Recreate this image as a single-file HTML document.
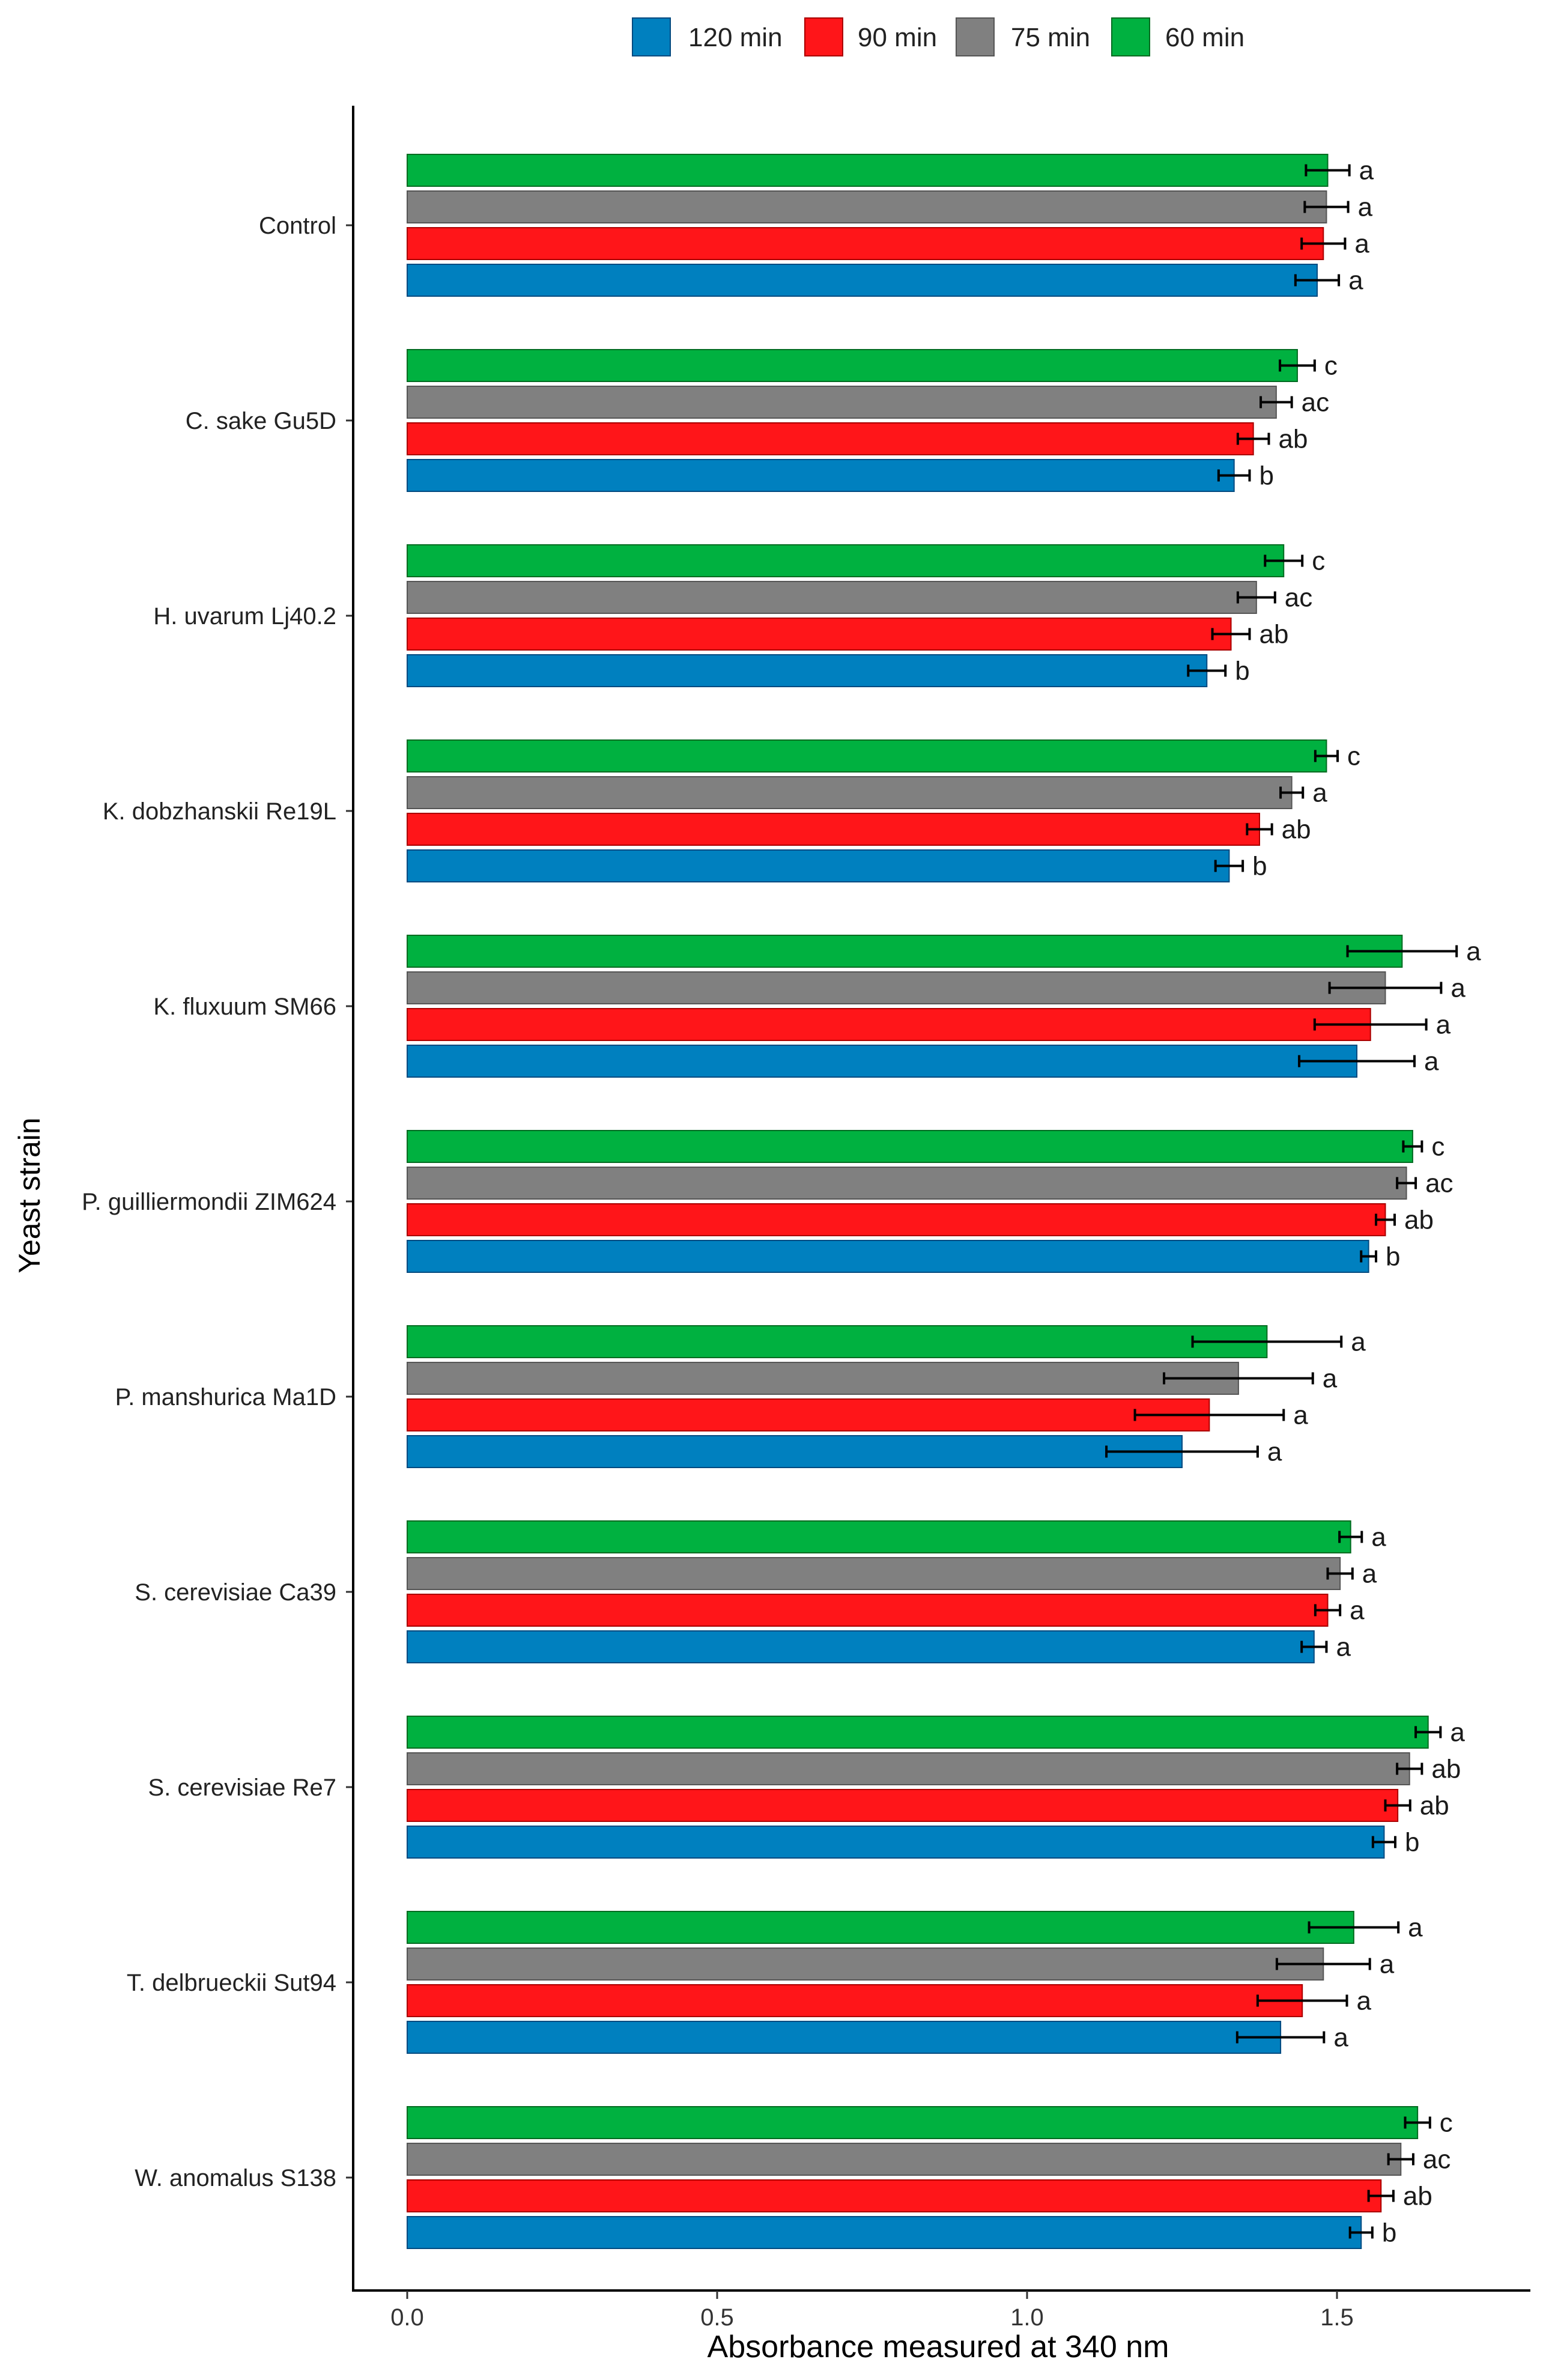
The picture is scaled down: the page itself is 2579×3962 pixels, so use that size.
<!DOCTYPE html>
<html><head><meta charset="utf-8">
<style>
html,body{margin:0;padding:0;background:#fff;}
svg{display:block;font-family:"Liberation Sans",sans-serif;}
</style></head>
<body>
<svg id="chart" width="2579" height="3962" viewBox="0 0 2579 3962" xmlns="http://www.w3.org/2000/svg">
<g id="legend"></g>
<g id="plot"></g>
<g id="axes"></g>
</svg>
<script>
const categories = ["Control","C. sake Gu5D","H. uvarum Lj40.2","K. dobzhanskii Re19L","K. fluxuum SM66","P. guilliermondii ZIM624","P. manshurica Ma1D","S. cerevisiae Ca39","S. cerevisiae Re7","T. delbrueckii Sut94","W. anomalus S138"];
const seriesNames = ["60 min","75 min","90 min","120 min"];
const legendOrder = ["120 min","90 min","75 min","60 min"];
const v60  = [1.485,1.436,1.414,1.483,1.605,1.622,1.387,1.522,1.647,1.527,1.630];
const v75  = [1.483,1.402,1.370,1.427,1.578,1.612,1.341,1.505,1.617,1.478,1.603];
const v90  = [1.478,1.365,1.329,1.375,1.554,1.578,1.294,1.485,1.598,1.444,1.571];
const v120 = [1.468,1.334,1.290,1.326,1.532,1.551,1.250,1.463,1.576,1.409,1.539];
const e60  = [0.035,0.028,0.030,0.018,0.088,0.015,0.120,0.018,0.020,0.072,0.020];
const e75  = [0.035,0.025,0.030,0.018,0.090,0.015,0.120,0.020,0.020,0.075,0.020];
const e90  = [0.035,0.025,0.030,0.020,0.090,0.015,0.120,0.020,0.020,0.072,0.020];
const e120 = [0.035,0.025,0.030,0.022,0.093,0.012,0.122,0.020,0.018,0.070,0.018];
const l60  = ["a","c","c","c","a","c","a","a","a","a","c"];
const l75  = ["a","ac","ac","a","a","ac","a","a","ab","a","ac"];
const l90  = ["a","ab","ab","ab","a","ab","a","a","ab","a","ab"];
const l120 = ["a","b","b","b","a","b","a","a","b","a","b"];
const xTicks = [0,0.5,1.0,1.5];
const xTickLabels = ["0.0","0.5","1.0","1.5"];

const NS="http://www.w3.org/2000/svg";
const fills={"60 min":"#00B140","75 min":"#808080","90 min":"#FF1519","120 min":"#0080BF"};
const strokes={"60 min":"#006b20","75 min":"#555","90 min":"#a00","120 min":"#004a80"};
const vals={"60 min":v60,"75 min":v75,"90 min":v90,"120 min":v120};
const errs={"60 min":e60,"75 min":e75,"90 min":e90,"120 min":e120};
const labs={"60 min":l60,"75 min":l75,"90 min":l90,"120 min":l120};
const X0=678, PXU=1032, AXL=588, AXB=3813, AXT=176, AXR=2548;
const xs=v=>X0+v*PXU;
const yc=i=>375+i*325;
function mk(t,a,p){const e=document.createElementNS(NS,t);for(const k in a)e.setAttribute(k,a[k]);p.appendChild(e);return e;}
const plot=document.getElementById('plot'),axes=document.getElementById('axes'),legend=document.getElementById('legend');

categories.forEach((c,i)=>{
  seriesNames.forEach((s,j)=>{
    const cy=yc(i)+(j-1.5)*61;
    const v=vals[s][i],er=errs[s][i];
    const r=mk('rect',{x:xs(0),y:cy-26.5,width:xs(v)-xs(0),height:53,fill:fills[s],stroke:strokes[s],'stroke-width':2},plot);
    
    
    const g=mk('g',{},plot);
    
    
    mk('line',{x1:xs(v-er),x2:xs(v+er),y1:cy,y2:cy,stroke:'#000','stroke-width':4},g);
    mk('line',{x1:xs(v-er),x2:xs(v-er),y1:cy-10,y2:cy+10,stroke:'#000','stroke-width':4},g);
    mk('line',{x1:xs(v+er),x2:xs(v+er),y1:cy-10,y2:cy+10,stroke:'#000','stroke-width':4},g);
    const t=mk('text',{x:xs(v+er)+16,y:cy+15,'font-size':44,fill:'#1a1a1a'},plot);
    t.textContent=labs[s][i];
    
    
  });
  const tl=mk('text',{x:560,y:yc(i)+14,'font-size':40,'text-anchor':'end',fill:'#222'},axes);
  tl.textContent=c;
  
  
  mk('line',{x1:576,x2:AXL,y1:yc(i),y2:yc(i),stroke:'#333','stroke-width':3},axes);
});
const ya=mk('line',{x1:AXL,x2:AXL,y1:AXT,y2:AXB+2,stroke:'#000','stroke-width':4},axes);


const xa=mk('line',{x1:AXL-2,x2:AXR,y1:AXB,y2:AXB,stroke:'#000','stroke-width':4},axes);


xTicks.forEach((v,k)=>{
  mk('line',{x1:xs(v),x2:xs(v),y1:AXB,y2:AXB+14,stroke:'#333','stroke-width':3},axes);
  const t=mk('text',{x:xs(v),y:3871,'font-size':40,'text-anchor':'middle',fill:'#333'},axes);
  t.textContent=xTickLabels[k];
  
  
});
const xt=mk('text',{x:1562,y:3924,'font-size':52,'text-anchor':'middle',fill:'#000'},axes);
xt.textContent="Absorbance measured at 340 nm";


const yt=mk('text',{x:0,y:0,'font-size':50,'text-anchor':'middle',fill:'#000',transform:'translate(66,1990) rotate(-90)'},axes);
yt.textContent="Yeast strain";



const boxX=[1053,1340,1592,1851], txtX=[1146,1428,1683,1940];
legendOrder.forEach((s,k)=>{
  const g=mk('g',{},legend);
  
  
  mk('rect',{x:boxX[k],y:30,width:63,height:63,fill:fills[s],stroke:strokes[s],'stroke-width':2},g);
  const t=mk('text',{x:txtX[k],y:77,'font-size':44,fill:'#222'},g);
  t.textContent=s;
});
</script>
</body></html>
